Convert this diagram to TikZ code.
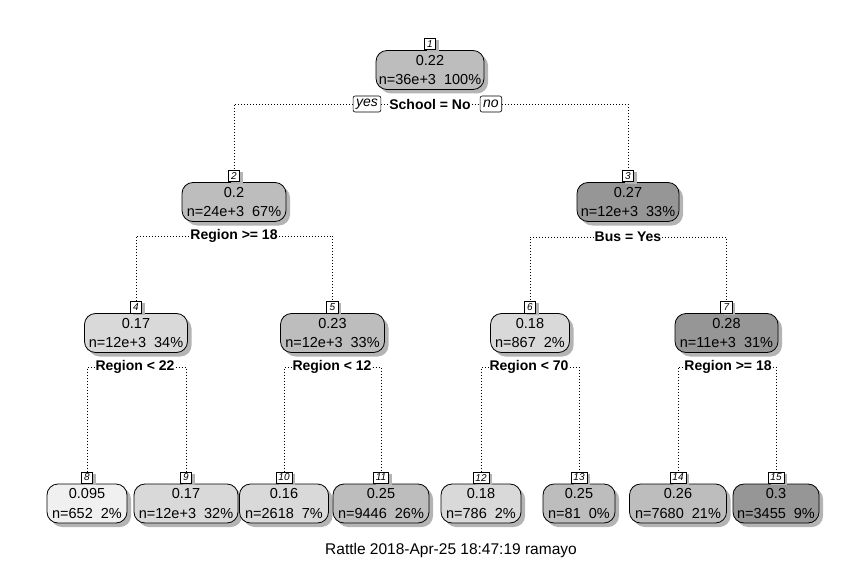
\documentclass[tikz,border=0pt]{standalone}
\usepackage{fontspec}
\setmainfont{Liberation Sans}
\usetikzlibrary{shadows}
\definecolor{g1}{HTML}{F0F0F0}
\definecolor{g2}{HTML}{D9D9D9}
\definecolor{g3}{HTML}{BDBDBD}
\definecolor{g4}{HTML}{969696}
\definecolor{shd}{HTML}{B4B4B4}
\begin{document}
\begin{tikzpicture}[x=1pt,y=-1pt,
 box/.style={draw=black, line width=0.8pt, rounded corners=11pt, minimum height=39pt, inner sep=0pt, align=center,
   font=\fontsize{14.5}{19.5}\selectfont,
   drop shadow={shadow xshift=4pt, shadow yshift=-4pt, fill=shd, opacity=1, rounded corners=11pt}},
 nlab/.style={draw=black, fill=white, line width=0.6pt, inner xsep=2.5pt, inner ysep=0.5pt, minimum height=11.5pt, minimum width=11.5pt,
   font=\fontsize{10}{10}\selectfont\itshape, anchor=south,
   drop shadow={shadow xshift=3pt, shadow yshift=-2pt, fill=shd, opacity=1}},
 split/.style={font=\fontsize{14}{14}\selectfont\bfseries, inner sep=1pt},
 yn/.style={draw=black, fill=white, line width=0.6pt, rounded corners=2pt, font=\fontsize{14}{14}\selectfont\itshape,
   inner xsep=3pt, inner ysep=0pt, minimum height=16pt},
 dl/.style={line width=0.8pt, dash pattern=on 0.8pt off 2.2pt},
]
\useasboundingbox (0,0) rectangle (866,561);

% level 1
\node[box, fill=g3, minimum width=108pt] (n1) at (430,70) {0.22\\n=36e+3\ \ 100\%};
\node[nlab] (l1) at (n1.north) {1};
% level 2
\node[box, fill=g3, minimum width=104pt] (n2) at (234,202) {0.2\\n=24e+3\ \ 67\%};
\node[nlab] (l2) at (n2.north) {2};
\node[box, fill=g4, minimum width=102pt] (n3) at (628,202) {0.27\\n=12e+3\ \ 33\%};
\node[nlab] (l3) at (n3.north) {3};
% level 3
\node[box, fill=g2, minimum width=103pt] (n4) at (136,333) {0.17\\n=12e+3\ \ 34\%};
\node[nlab] (l4) at (n4.north) {4};
\node[box, fill=g3, minimum width=104pt] (n5) at (332.5,333) {0.23\\n=12e+3\ \ 33\%};
\node[nlab] (l5) at (n5.north) {5};
\node[box, fill=g2, minimum width=79pt] (n6) at (530,333) {0.18\\n=867\ \ 2\%};
\node[nlab] (l6) at (n6.north) {6};
\node[box, fill=g4, minimum width=103pt] (n7) at (726.5,333) {0.28\\n=11e+3\ \ 31\%};
\node[nlab] (l7) at (n7.north) {7};
% leaves
\node[box, fill=g1, minimum width=80pt] (n8) at (87,503.5) {0.095\\n=652\ \ 2\%};
\node[nlab] (l8) at (n8.north) {8};
\node[box, fill=g2, minimum width=104pt] (n9) at (186,503.5) {0.17\\n=12e+3\ \ 32\%};
\node[nlab] (l9) at (n9.north) {9};
\node[box, fill=g2, minimum width=89pt] (n10) at (284,503.5) {0.16\\n=2618\ \ 7\%};
\node[nlab] (l10) at (n10.north) {10};
\node[box, fill=g3, minimum width=96pt] (n11) at (381,503.5) {0.25\\n=9446\ \ 26\%};
\node[nlab] (l11) at (n11.north) {11};
\node[box, fill=g2, minimum width=80pt] (n12) at (481,503.5) {0.18\\n=786\ \ 2\%};
\node[nlab] (l12) at (n12.north) {12};
\node[box, fill=g3, minimum width=72pt] (n13) at (579,503.5) {0.25\\n=81\ \ 0\%};
\node[nlab] (l13) at (n13.north) {13};
\node[box, fill=g3, minimum width=97pt] (n14) at (678,503.5) {0.26\\n=7680\ \ 21\%};
\node[nlab] (l14) at (n14.north) {14};
\node[box, fill=g4, minimum width=86pt] (n15) at (776,503.5) {0.3\\n=3455\ \ 9\%};
\node[nlab] (l15) at (n15.north) {15};

% split labels
\node[split] (s1) at (430,104) {School = No};
\node[yn, anchor=east] (yes) at ([xshift=-7pt]s1.west) {yes};
\node[yn, anchor=west] (no) at ([xshift=8pt]s1.east) {no};
\node[split] (s2) at (234,236) {Region >= 18};
\node[split] (s3) at (628,237) {Bus = Yes};
\node[split] (s4) at (135,367) {Region < 22};
\node[split] (s5) at (332,367) {Region < 12};
\node[split] (s6) at (529,367) {Region < 70};
\node[split] (s7) at (728,367) {Region >= 18};

% connectors
\draw[dl] (yes.west) -| (l2.north);
\draw[dl] (yes.east) -- (s1.west);
\draw[dl] (s1.east) -- (no.west);
\draw[dl] (no.east) -| (l3.north);
\draw[dl] (s2.west) -| (l4.north);
\draw[dl] (s2.east) -| (l5.north);
\draw[dl] (s3.west) -| (l6.north);
\draw[dl] (s3.east) -| (l7.north);
\draw[dl] (s4.west) -| (l8.north);
\draw[dl] (s4.east) -| (l9.north);
\draw[dl] (s5.west) -| (l10.north);
\draw[dl] (s5.east) -| (l11.north);
\draw[dl] (s6.west) -| (l12.north);
\draw[dl] (s6.east) -| (l13.north);
\draw[dl] (s7.west) -| (l14.north);
\draw[dl] (s7.east) -| (l15.north);

\node[font=\fontsize{15.5}{15.5}\selectfont] (cap) at (451,550) {Rattle 2018-Apr-25 18:47:19 ramayo};
\end{tikzpicture}
\end{document}
